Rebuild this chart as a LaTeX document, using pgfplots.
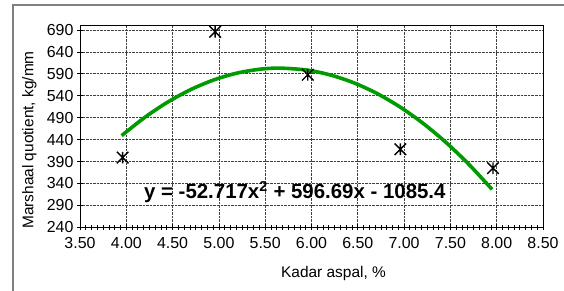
\documentclass[border=0pt]{standalone}
\usepackage{pgfplots}
\pgfplotsset{compat=1.18}
\usepackage{fontspec}
\setmainfont{Liberation Sans}
\definecolor{trend}{RGB}{0,155,0}
\definecolor{frame}{RGB}{128,128,128}
\pgfdeclareplotmark{xstar}{%
  \pgfpathmoveto{\pgfqpoint{-\pgfplotmarksize}{-\pgfplotmarksize}}%
  \pgfpathlineto{\pgfqpoint{\pgfplotmarksize}{\pgfplotmarksize}}%
  \pgfpathmoveto{\pgfqpoint{-\pgfplotmarksize}{\pgfplotmarksize}}%
  \pgfpathlineto{\pgfqpoint{\pgfplotmarksize}{-\pgfplotmarksize}}%
  \pgfpathmoveto{\pgfqpoint{0pt}{-\pgfplotmarksize}}%
  \pgfpathlineto{\pgfqpoint{0pt}{\pgfplotmarksize}}%
  \pgfusepathqstroke}
\begin{document}
\begin{tikzpicture}
\useasboundingbox (0,0) rectangle (564bp,291bp);
\fill[white] (0,0) rectangle (564bp,291bp);
\draw[frame, line width=2bp] (12.7bp,0) -- (12.7bp,286bp) -- (564bp,286bp);
\begin{axis}[
  at={(80bp,63.7bp)}, anchor=south west,
  scale only axis, width=463bp, height=201.7bp,
  xmin=3.5, xmax=8.5, ymin=240, ymax=700,
  xtick={3.5,4,...,8.5}, ytick={240,290,...,690},
  minor x tick num=7,
  tick pos=left, tick align=center,
  major tick length=6bp, minor tick length=5bp,
  every tick/.style={black, line width=0.8bp},
  axis line style={black, line width=0.8bp},
  grid=major,
  major grid style={black!75, densely dotted, line width=0.7bp},
  /pgf/number format/assume math mode=true,
  xticklabel style={/pgf/number format/.cd, fixed, fixed zerofill, precision=2, /tikz/.cd, yshift=-4bp},
  yticklabel style={/pgf/number format/.cd, fixed, precision=0},
  tick label style={font=\fontsize{16}{19}\selectfont},
  clip=false,
]
\addplot[trend, line width=3.6bp, smooth, mark=none] coordinates {
  (3.95,449.0) (4.20,490.8) (4.45,525.9) (4.70,554.5) (4.95,576.5)
  (5.20,591.9) (5.45,600.7) (5.66,603.0) (5.95,598.6) (6.20,587.6)
  (6.45,570.1) (6.70,546.0) (6.95,515.2) (7.20,477.9) (7.45,434.0)
  (7.70,383.5) (7.95,326.4)
};
\addplot[only marks, mark=xstar, mark size=5.8bp, black, line width=1.4bp] coordinates {
  (3.96,399) (4.96,686) (5.96,588) (6.96,418) (7.96,375)
};
\node[font=\fontsize{20.5}{24}\selectfont\bfseries, anchor=center] at (axis cs:5.82,320) {y = -52.717x\textsuperscript{2} + 596.69x - 1085.4};
\end{axis}
\node[font=\fontsize{15.5}{18}\selectfont, anchor=center] at (333.5bp,17bp) {Kadar aspal, \%};
\node[font=\fontsize{15.5}{18}\selectfont, anchor=center, rotate=90] at (29.5bp,151bp) {Marshaal quotient, kg/mm};
\end{tikzpicture}
\end{document}
